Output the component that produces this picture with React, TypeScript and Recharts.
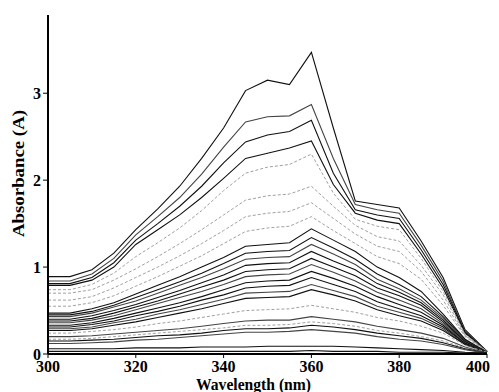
import {LineChart, Line, XAxis, YAxis, Label} from "recharts";

const wavelengths = [300, 305, 310, 315, 320, 325, 330, 335, 340, 345, 350, 355, 360, 365, 370, 375, 380, 385, 390, 395, 400];

const s1 = [0.89, 0.89, 0.97, 1.16, 1.43, 1.67, 1.93, 2.25, 2.60, 3.03, 3.15, 3.10, 3.47, 2.60, 1.76, 1.72, 1.68, 1.30, 0.88, 0.28, 0.03];
const s2 = [0.84, 0.84, 0.92, 1.10, 1.37, 1.58, 1.80, 2.07, 2.38, 2.67, 2.73, 2.74, 2.87, 2.25, 1.72, 1.66, 1.62, 1.25, 0.84, 0.26, 0.03];
const s3 = [0.81, 0.81, 0.88, 1.05, 1.31, 1.50, 1.70, 1.93, 2.20, 2.44, 2.52, 2.56, 2.69, 2.08, 1.66, 1.60, 1.56, 1.20, 0.80, 0.25, 0.03];
const s4 = [0.79, 0.79, 0.85, 1.00, 1.26, 1.43, 1.60, 1.80, 2.02, 2.25, 2.31, 2.37, 2.45, 1.95, 1.62, 1.54, 1.50, 1.15, 0.76, 0.24, 0.03];
const s5 = [0.74, 0.74, 0.80, 0.93, 1.12, 1.28, 1.45, 1.65, 1.88, 2.08, 2.15, 2.18, 2.30, 1.85, 1.55, 1.47, 1.43, 1.10, 0.72, 0.23, 0.03];
const s6 = [0.70, 0.70, 0.74, 0.85, 0.98, 1.12, 1.27, 1.43, 1.60, 1.77, 1.82, 1.84, 1.93, 1.70, 1.48, 1.35, 1.30, 1.02, 0.68, 0.22, 0.03];
const s7 = [0.62, 0.62, 0.66, 0.76, 0.88, 1.00, 1.13, 1.27, 1.42, 1.58, 1.62, 1.64, 1.74, 1.56, 1.38, 1.24, 1.18, 0.95, 0.62, 0.21, 0.03];
const s8 = [0.55, 0.55, 0.59, 0.67, 0.78, 0.89, 1.01, 1.13, 1.27, 1.41, 1.45, 1.47, 1.58, 1.42, 1.27, 1.12, 1.04, 0.86, 0.56, 0.20, 0.02];
const s9 = [0.47, 0.47, 0.52, 0.59, 0.69, 0.79, 0.89, 1.00, 1.11, 1.24, 1.26, 1.28, 1.44, 1.31, 1.18, 1.00, 0.88, 0.72, 0.46, 0.17, 0.02];
const s10 = [0.45, 0.45, 0.49, 0.56, 0.65, 0.74, 0.83, 0.93, 1.04, 1.16, 1.18, 1.19, 1.34, 1.22, 1.09, 0.92, 0.80, 0.66, 0.43, 0.16, 0.02];
const s11 = [0.43, 0.43, 0.47, 0.54, 0.61, 0.70, 0.79, 0.88, 0.98, 1.09, 1.11, 1.12, 1.26, 1.15, 1.03, 0.86, 0.75, 0.62, 0.41, 0.15, 0.02];
const s12 = [0.40, 0.40, 0.44, 0.50, 0.57, 0.65, 0.73, 0.82, 0.91, 1.02, 1.04, 1.05, 1.18, 1.07, 0.97, 0.81, 0.71, 0.59, 0.39, 0.14, 0.02];
const s13 = [0.38, 0.38, 0.41, 0.47, 0.54, 0.61, 0.69, 0.77, 0.85, 0.95, 0.97, 0.98, 1.10, 1.00, 0.90, 0.76, 0.67, 0.56, 0.37, 0.14, 0.02];
const s14 = [0.36, 0.36, 0.39, 0.44, 0.51, 0.58, 0.65, 0.72, 0.80, 0.89, 0.91, 0.92, 1.03, 0.94, 0.84, 0.71, 0.62, 0.52, 0.35, 0.13, 0.02];
const s15 = [0.33, 0.33, 0.36, 0.41, 0.47, 0.53, 0.59, 0.66, 0.74, 0.82, 0.84, 0.85, 0.95, 0.87, 0.78, 0.66, 0.57, 0.48, 0.33, 0.12, 0.02];
const s16 = [0.31, 0.31, 0.34, 0.38, 0.44, 0.49, 0.55, 0.62, 0.68, 0.76, 0.78, 0.79, 0.88, 0.80, 0.72, 0.60, 0.52, 0.44, 0.31, 0.12, 0.02];
const s17 = [0.29, 0.29, 0.31, 0.36, 0.40, 0.46, 0.51, 0.57, 0.63, 0.70, 0.71, 0.72, 0.80, 0.73, 0.66, 0.55, 0.48, 0.41, 0.29, 0.11, 0.02];
const s18 = [0.27, 0.27, 0.29, 0.33, 0.37, 0.42, 0.47, 0.52, 0.58, 0.64, 0.65, 0.66, 0.74, 0.68, 0.61, 0.51, 0.44, 0.38, 0.27, 0.11, 0.02];
const s19 = [0.24, 0.24, 0.26, 0.28, 0.31, 0.35, 0.38, 0.42, 0.46, 0.50, 0.51, 0.52, 0.56, 0.52, 0.48, 0.42, 0.38, 0.32, 0.24, 0.10, 0.02];
const s20 = [0.20, 0.20, 0.21, 0.23, 0.25, 0.27, 0.29, 0.32, 0.35, 0.38, 0.39, 0.39, 0.43, 0.40, 0.37, 0.32, 0.28, 0.24, 0.18, 0.08, 0.01];
const s21 = [0.17, 0.17, 0.18, 0.20, 0.22, 0.24, 0.26, 0.28, 0.30, 0.33, 0.33, 0.34, 0.37, 0.35, 0.32, 0.27, 0.24, 0.20, 0.15, 0.07, 0.01];
const s22 = [0.15, 0.15, 0.16, 0.17, 0.19, 0.21, 0.22, 0.24, 0.27, 0.29, 0.29, 0.30, 0.33, 0.31, 0.28, 0.24, 0.21, 0.18, 0.13, 0.06, 0.01];
const s23 = [0.12, 0.12, 0.13, 0.14, 0.16, 0.17, 0.19, 0.21, 0.23, 0.25, 0.25, 0.26, 0.28, 0.26, 0.24, 0.20, 0.17, 0.15, 0.11, 0.05, 0.01];
const s24 = [0.06, 0.06, 0.06, 0.06, 0.07, 0.07, 0.07, 0.08, 0.08, 0.08, 0.09, 0.09, 0.09, 0.09, 0.08, 0.07, 0.06, 0.05, 0.04, 0.02, 0.01];
const s25 = [0.03, 0.03, 0.03, 0.03, 0.03, 0.03, 0.03, 0.03, 0.03, 0.03, 0.03, 0.03, 0.04, 0.03, 0.03, 0.03, 0.02, 0.02, 0.02, 0.01, 0.01];

const seriesValues = [s1, s2, s3, s4, s5, s6, s7, s8, s9, s10, s11, s12, s13, s14, s15, s16, s17, s18, s19, s20, s21, s22, s23, s24, s25];

const xTicks = [300, 320, 340, 360, 380, 400];
const yTicks = [0, 1, 2, 3];

// dotted grey spectra vs solid black ones
const dottedSet = [5, 6, 7, 8, 19, 21];

const chartData = wavelengths.map((wl, i) => {
    const row: Record<string, number> = {wl};
    seriesValues.forEach((vals, k) => {
        row["s" + (k + 1)] = vals[i];
    });
    return row;
});

const font = "'Liberation Serif', 'Times New Roman', Times, serif";

const XTick = (props: any) => {
    const {x, y, payload} = props;
    // last label is right-aligned so it isn't clipped
    const last = payload.value === 400;
    return (
        <text x={last ? x + 3 : x} y={y} dy="0.71em" textAnchor={last ? "end" : "middle"}
              style={{fontFamily: font}} fontWeight="bold" fontSize={16} fill="#000">
            {payload.value}
        </text>
    );
};

const XTitle = (props: any) => {
    const vb = props.viewBox;
    const cx = vb.x + vb.width / 2 - 14;
    return (
        <text x={cx} y={vb.y + 36} textAnchor="middle" style={{fontFamily: font}} fontWeight="bold" fontSize={16}
              fill="#000" textLength={115} lengthAdjust="spacingAndGlyphs">
            Wavelength (nm)
        </text>
    );
};

const YTitle = (props: any) => {
    const vb = props.viewBox;
    const cx = vb.x + 10;
    const cy = vb.y + vb.height / 2 - 11;
    return (
        <text x={cx} y={cy} textAnchor="middle" dominantBaseline="central" style={{fontFamily: font}}
              fontWeight="bold" fontSize={16} fill="#000" textLength={127} lengthAdjust="spacingAndGlyphs"
              transform={`rotate(-90, ${cx}, ${cy})`}>
            Absorbance (A)
        </text>
    );
};

const App = () => {
    const yTickStyle = {fontWeight: "bold", fontSize: 16, fill: "#000", style: {fontFamily: font}};
    return (
        <>
            {/* chart fills the window: no scrollbars */}
            <style>{"html, body { overflow: hidden; }"}</style>
            <LineChart width={491} height={384} data={chartData}
                       margin={{top: 7, right: 12, left: 0, bottom: 0}}>
                <XAxis dataKey="wl" type="number" domain={[300, 400]} ticks={xTicks} height={38}
                       tick={<XTick/>} tickSize={4} tickMargin={3}
                       axisLine={{stroke: "#000", strokeWidth: 2}} tickLine={{stroke: "#000"}}>
                    <Label content={XTitle}/>
                </XAxis>
                <YAxis type="number" domain={[0, 3.9]} ticks={yTicks} width={40}
                       tick={yTickStyle} tickSize={5} tickMargin={2}
                       axisLine={{stroke: "#000", strokeWidth: 2}} tickLine={{stroke: "#000"}}>
                    <Label content={YTitle}/>
                </YAxis>
                {seriesValues.map((_, k) => {
                    const dotted = dottedSet.includes(k + 1);
                    return (
                        <Line key={k} type="linear" dataKey={"s" + (k + 1)} dot={false} activeDot={false}
                              stroke={dotted ? "#a0a0a0" : (k % 3 === 1 ? "#444" : "#111")}
                              strokeWidth={dotted ? 1 : 1.1}
                              strokeDasharray={dotted ? "3 2" : undefined}
                              isAnimationActive={false}/>
                    );
                })}
            </LineChart>
        </>
    );
};

export default App;
